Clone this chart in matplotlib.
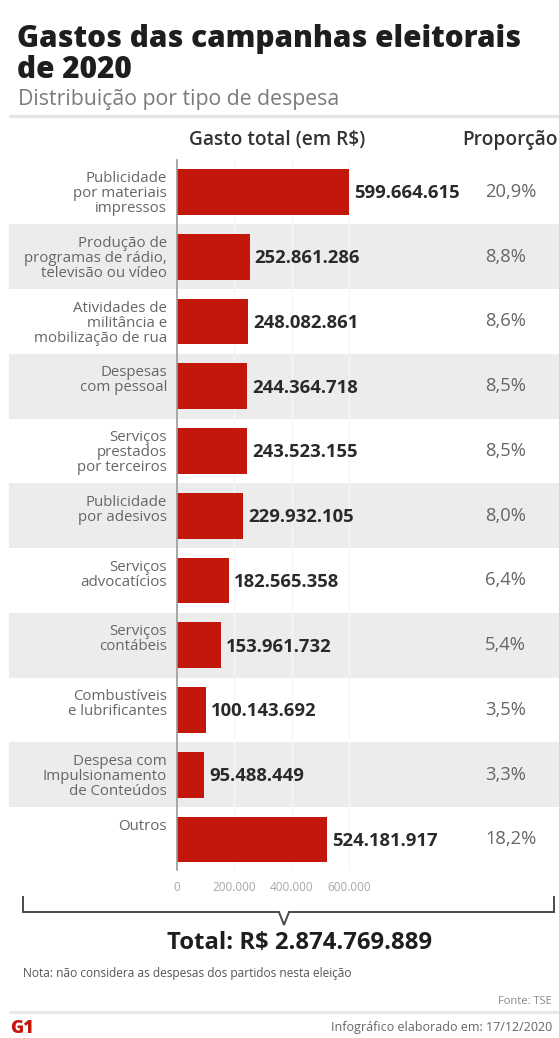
import matplotlib
matplotlib.use("Agg")
import matplotlib.pyplot as plt
import matplotlib.transforms as mtransforms
from matplotlib.patches import Rectangle
from matplotlib.ticker import FuncFormatter

plt.rcParams['font.family'] = ['Open Sans', 'DejaVu Sans']

# --- data -------------------------------------------------------------
categories = [
    "Publicidade\npor materiais\nimpressos",
    "Produção de\nprogramas de rádio,\ntelevisão ou vídeo",
    "Atividades de\nmilitância e\nmobilização de rua",
    "Despesas\ncom pessoal",
    "Serviços\nprestados\npor terceiros",
    "Publicidade\npor adesivos",
    "Serviços\nadvocatícios",
    "Serviços\ncontábeis",
    "Combustíveis\ne lubrificantes",
    "Despesa com\nImpulsionamento\nde Conteúdos",
    "Outros",
]
values = [599664615, 252861286, 248082861, 244364718, 243523155, 229932105,
          182565358, 153961732, 100143692, 95488449, 524181917]
shares = [20.9, 8.8, 8.6, 8.5, 8.5, 8.0, 6.4, 5.4, 3.5, 3.3, 18.2]
total = 2874769889
x_ticks = [0, 200_000_000, 400_000_000, 600_000_000]

title_lines = ["Gastos das campanhas eleitorais", "de 2020"]
subtitle = "Distribuição por tipo de despesa"
note = "Nota: não considera as despesas dos partidos nesta eleição"
source = "Fonte: TSE"
made_on = "Infográfico elaborado em: 17/12/2020"

# --- style ------------------------------------------------------------
RED = "#c4170c"
BAND = "#ececec"
DARK = "#1e1e1e"
W, H = 559, 1038


def br(n):
    return f"{n:,}".replace(",", ".")


fig = plt.figure(figsize=(W / 100, H / 100), dpi=100)
fig.patch.set_facecolor("white")

# overlay axes in pixel units for headings and footer
ov = fig.add_axes([0, 0, 1, 1])
ov.set_xlim(0, W)
ov.set_ylim(H, 0)
ov.axis("off")
ov.set_zorder(3)
ov.patch.set_alpha(0)

# bar axes
ax_left, ax_top, ax_bottom = 177, 160, 870
px_per_unit = 172 / 599_664_615
ax = fig.add_axes([ax_left / W, 1 - ax_bottom / H, 1 - ax_left / W,
                   (ax_bottom - ax_top) / H])
ax.set_zorder(1)
ax.patch.set_alpha(0)
ax.set_xlim(0, (W - ax_left) / px_per_unit)
pitch = 64.75
ax.set_ylim((ax_bottom - 192) / pitch, (ax_top - 192) / pitch)

n = len(values)
ypos = list(range(n))

# alternating row bands across the full width
band_tr = mtransforms.blended_transform_factory(fig.transFigure, ax.transData)
for i in ypos:
    if i % 2 == 1:
        ax.add_patch(Rectangle((9 / W, i - 0.5), 1 - 9 / W, 1.0,
                               transform=band_tr, facecolor=BAND,
                               edgecolor="none", zorder=0, clip_on=False))

ax.set_axisbelow(True)
ax.grid(axis="x", color="#f6f6f6", lw=1.0)
ax.barh(ypos, values, height=0.71, color=RED, zorder=2)

for y, v in zip(ypos, values):
    ax.annotate(br(v), (v, y), xytext=(3.6, -1), textcoords="offset points",
                ha="left", va="center", fontsize=13.3, fontweight="bold",
                color="#2a2a2a", zorder=4)

pct_tr = mtransforms.blended_transform_factory(ov.transData, ax.transData)
for y, s in zip(ypos, shares):
    ax.text(485, y, f"{s:.1f}".replace(".", ",") + "%", transform=pct_tr,
            ha="left", va="center", fontsize=13.2, color="#666666")

lab_tr = mtransforms.blended_transform_factory(ov.transData, ax.transData)
for y, c in zip(ypos, categories):
    ax.text(167, y - 0.355 + 2 / pitch, c, transform=lab_tr, ha="right",
            va="top", fontsize=10.8, color="#666666", linespacing=1.02)

for side in ("top", "right", "bottom"):
    ax.spines[side].set_visible(False)
ax.spines["left"].set_color("#9a9a9a")
ax.spines["left"].set_linewidth(1.2)
ax.set_yticks([])
ax.set_xticks(x_ticks)
ax.xaxis.set_major_formatter(FuncFormatter(lambda v, p: br(int(v / 1000))))
ax.tick_params(axis="x", length=0, pad=8, labelsize=8.5, labelcolor="#a8a8a8")

# --- headings ---------------------------------------------------------
ov.text(17, 47, title_lines[0], fontsize=21.4, fontweight="heavy", color=DARK,
        va="baseline", ha="left")
ov.text(17, 78, title_lines[1], fontsize=21.4, fontweight="heavy", color=DARK,
        va="baseline", ha="left")
ov.text(18, 99, subtitle, fontsize=15.3, color="#7a7a7a", va="center",
        ha="left")
ov.plot([9, W], [116, 116], color="#e6e6e6", lw=2.5, solid_capstyle="butt")

ov.text(277, 140, "Gasto total (em R$)", fontsize=13.8, fontweight="semibold",
        color="#333333", ha="center", va="center")
ov.text(510, 140, "Proporção", fontsize=13.8, fontweight="semibold",
        color="#333333", ha="center", va="center")

# --- bracket and total ------------------------------------------------
ov.plot([23, 23, 279, 284, 289, 554, 554],
        [897, 912, 912, 925, 912, 912, 897],
        color="#4a4a4a", lw=1.4, solid_joinstyle="miter")
ov.text(300, 943, "Total: R$ " + br(total), fontsize=17.2, fontweight="bold",
        color=DARK, ha="center", va="center")
ov.text(23, 973, note, fontsize=8.6, color="#555555", ha="left", va="center")
ov.text(552, 1002, source, fontsize=8, color="#888888", ha="right",
        va="center")
ov.plot([9, W], [1012, 1012], color="#e6e6e6", lw=2, solid_capstyle="butt")
ov.text(552, 1027, made_on, fontsize=9, color="#666666", ha="right",
        va="center")
ov.text(10, 1037, "G1", fontsize=13, fontweight="heavy", color=RED,
        ha="left", va="bottom")

fig.savefig("out.png", dpi=100, facecolor="white")
